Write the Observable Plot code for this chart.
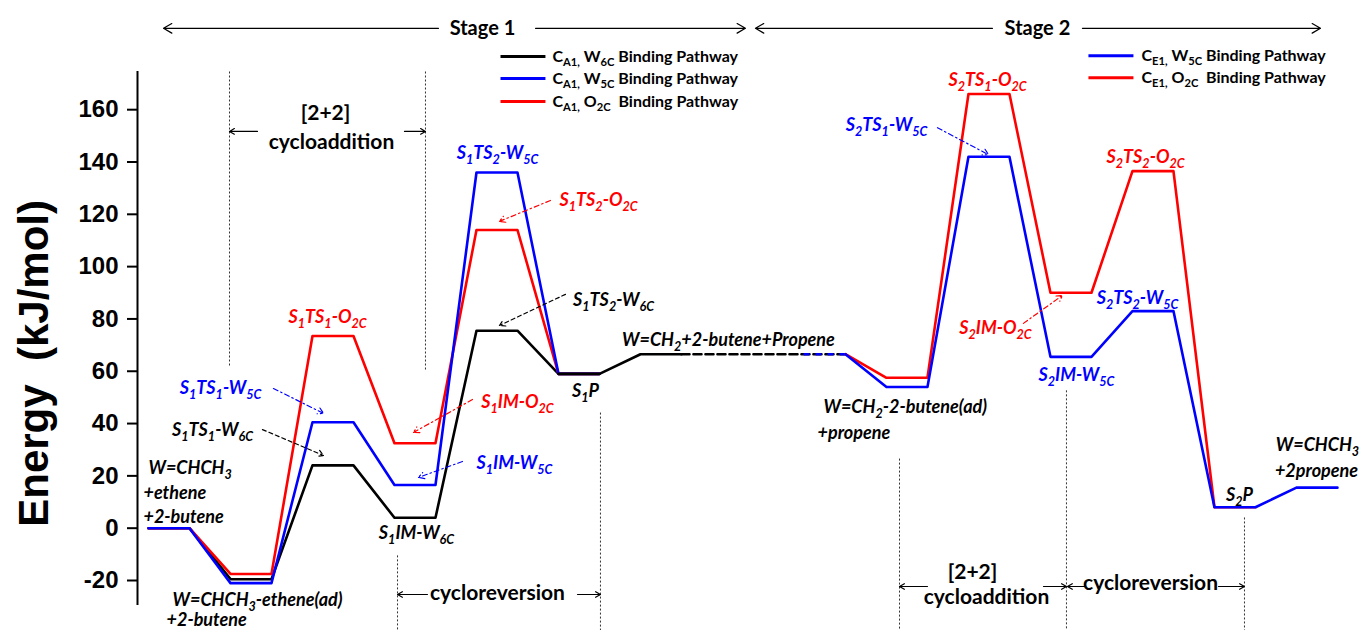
<!DOCTYPE html>
<html><head><meta charset="utf-8">
<script src="https://cdn.jsdelivr.net/npm/d3@7"></script>
<script src="https://cdn.jsdelivr.net/npm/@observablehq/plot@0.6"></script>
<style>body{margin:0;background:#fff} #chart svg{display:block}</style>
</head><body><div id="chart"></div>
<script>
// ---------- data ----------
const yTicks = [-20, 0, 20, 40, 60, 80, 100, 120, 140, 160];
// Stage 1 levels (index 0..6)
const stage1States = ["W=CHCH3+ethene+2-butene", "W=CHCH3-ethene(ad)+2-butene", "S1TS1", "S1IM", "S1TS2", "S1P", "W=CH2+2-butene+Propene"];
const cA1W6C = [0, -19.5, 24, 4, 75.5, 59, 66.5];
const cA1W5C = [0, -21, 40.5, 16.5, 136, 59];
const cA1O2C = [0, -17.5, 73.5, 32.5, 114, 59];
// Stage 2 levels (index 8..14)
const stage2Start = 8;
const stage2States = ["W=CH2+2-butene+Propene", "W=CH2-2-butene(ad)+propene", "S2TS1", "S2IM", "S2TS2", "S2P", "W=CHCH3+2propene"];
const cE1W5C = [66.5, 54, 142, 65.5, 83, 8, 15.5];
const cE1O2C = [66.5, 57.5, 166, 90, 136.5, 8];

const BLUE = "#0000ff", RED = "#ff0000", BLACK = "#000000";

const stateLabels = [
  {t: "S_{1}TS_{1}-O_{2C}", x: 2.183, y: 80.6, c: RED},
  {t: "S_{1}TS_{1}-W_{5C}", x: 0.878, y: 53.4, c: BLUE},
  {t: "S_{1}TS_{1}-W_{6C}", x: 0.78, y: 37.4, c: BLACK},
  {t: "W=CHCH_{3}", x: 0, y: 22.9, c: BLACK, a: "start"},
  {t: "+ethene", x: -0.061, y: 13.3, c: BLACK, a: "start"},
  {t: "+2-butene", x: -0.061, y: 4.1, c: BLACK, a: "start"},
  {t: "W=CHCH_{3}-ethene(ad)", x: 0.293, y: -27.7, c: BLACK, a: "start"},
  {t: "+2-butene", x: 0.22, y: -35.2, c: BLACK, a: "start"},
  {t: "S_{1}IM-W_{6C}", x: 3.268, y: -2.0, c: BLACK},
  {t: "S_{1}IM-W_{5C}", x: 4.463, y: 24.7, c: BLUE},
  {t: "S_{1}IM-O_{2C}", x: 4.5, y: 48.1, c: RED},
  {t: "S_{1}TS_{2}-W_{5C}", x: 4.256, y: 143.3, c: BLUE},
  {t: "S_{1}TS_{2}-O_{2C}", x: 5.488, y: 125.3, c: RED},
  {t: "S_{1}TS_{2}-W_{6C}", x: 5.671, y: 87.1, c: BLACK},
  {t: "S_{1}P", x: 5.329, y: 52.3, c: BLACK},
  {t: "W=CH_{2}+2-butene+Propene", x: 7.073, y: 71.8, c: BLACK},
  {t: "W=CH_{2}-2-butene(ad)", x: 8.232, y: 46.2, c: BLACK, a: "start"},
  {t: "+propene", x: 8.159, y: 36.2, c: BLACK, a: "start"},
  {t: "S_{2}TS_{1}-O_{2C}", x: 10.232, y: 171.2, c: RED},
  {t: "S_{2}TS_{1}-W_{5C}", x: 9.0, y: 153.9, c: BLUE},
  {t: "S_{2}TS_{2}-O_{2C}", x: 12.159, y: 141.8, c: RED},
  {t: "S_{2}IM-O_{2C}", x: 10.329, y: 76.4, c: RED},
  {t: "S_{2}TS_{2}-W_{5C}", x: 12.061, y: 87.8, c: BLUE},
  {t: "S_{2}IM-W_{5C}", x: 11.317, y: 58.4, c: BLUE},
  {t: "S_{2}P", x: 13.305, y: 12.5, c: BLACK},
  {t: "W=CHCH_{3}", x: 14.256, y: 31.6, c: BLACK},
  {t: "+2propene", x: 14.244, y: 21.8, c: BLACK}
];

const pointers = [
  {x1: 1.524, y1: 53.4, x2: 2.134, y2: 43.9, c: BLUE},
  {x1: 1.39, y1: 37.7, x2: 2.134, y2: 27.8, c: BLACK},
  {x1: 3.829, y1: 25.5, x2: 3.293, y2: 19.4, c: BLUE},
  {x1: 3.951, y1: 49.2, x2: 3.232, y2: 36.6, c: RED},
  {x1: 4.902, y1: 125.3, x2: 4.28, y2: 117.3, c: RED},
  {x1: 5.085, y1: 89.4, x2: 4.28, y2: 77.5, c: BLACK},
  {x1: 9.622, y1: 153.1, x2: 10.244, y2: 142.8, c: BLUE},
  {x1: 10.67, y1: 78.3, x2: 11.146, y2: 89.0, c: RED}
];

const dividers = [
  {x: 0.988, y1: 174.6, y2: 62.2},
  {x: 3.378, y1: 174.6, y2: 60.3},
  {x: 3.037, y1: -10.4, y2: -39.2},
  {x: 5.512, y1: 44.2, y2: -39.2},
  {x: 9.159, y1: 26.6, y2: -39.2},
  {x: 11.195, y1: 52.7, y2: -39.2},
  {x: 13.366, y1: 4.1, y2: -39.2}
];

const phaseTexts = [
  {t: "[2+2]", x: 2.159, y: 158.6},
  {t: "cycloaddition", x: 2.232, y: 147.5},
  {t: "cycloreversion", x: 4.256, y: -25.0},
  {t: "[2+2]", x: 10.049, y: -16.9},
  {t: "cycloaddition", x: 10.22, y: -26.5},
  {t: "cycloreversion", x: 12.22, y: -21.1}
];
const phaseArrows = [
  {x1: 1.329, x2: 0.988, y: 151.7}, {x1: 3.122, x2: 3.378, y: 151.7},
  {x1: 3.402, x2: 3.037, y: -25.35}, {x1: 5.232, x2: 5.512, y: -25.35},
  {x1: 9.5, x2: 9.159, y: -22.3}, {x1: 10.915, x2: 11.195, y: -22.3},
  {x1: 11.427, x2: 11.207, y: -22.3}, {x1: 13.049, x2: 13.366, y: -22.3}
];

const stageTexts = [{t: "Stage 1", x: 4.073}, {t: "Stage 2", x: 10.841}];
const stageArrows = [
  {x1: 3.537, x2: 0.183}, {x1: 4.72, x2: 7.28},
  {x1: 10.293, x2: 7.402}, {x1: 11.39, x2: 14.293}
];
const stageY = 191.1;

const legend1 = [
  {t: "C_{A1,} W_{6C} Binding Pathway", c: BLACK, y: 180.3},
  {t: "C_{A1,} W_{5C} Binding Pathway", c: BLUE, y: 171.9},
  {t: "C_{A1,} O_{2C}\u00a0 Binding Pathway", c: RED, y: 163.1}
];
const legend2 = [
  {t: "C_{E1,} W_{5C} Binding Pathway", c: BLUE, y: 180.6},
  {t: "C_{E1,} O_{2C}\u00a0 Binding Pathway", c: RED, y: 172.2}
];

// ---------- build level paths ----------
function levelPoints(values, start) {
  return values.flatMap((v, k) => [{x: start + k, y: v}, {x: start + k + 0.5, y: v}]);
}
const w6cPts = levelPoints(cA1W6C, 0);
const w6cLow = w6cPts.filter(d => d.x <= 5.5);
const w6cHigh = w6cPts.filter(d => d.x >= 5);
const w5cPts = levelPoints(cA1W5C, 0);
const o2cPts = levelPoints(cA1O2C, 0);
const e1w5cPts = levelPoints(cE1W5C, stage2Start).slice(1);
const e1o2cPts = levelPoints(cE1O2C, stage2Start).slice(1);
const transferLevel = cA1W6C[cA1W6C.length - 1];
const dashedLink = [{x: 6.5, y: transferLevel}, {x: stage2Start + 0.5, y: transferLevel}];
const dashedBlue = [{x: stage2Start, y: cE1W5C[0]}, {x: stage2Start + 0.5, y: cE1W5C[0]}];

const LABEL_FONT = "Lato, 'Open Sans', sans-serif";
const LW = 2.6;
const labelStyle = {x: "x", y: "y", text: "t", fill: "c", fontFamily: LABEL_FONT, fontStyle: "italic", fontWeight: "bold", fontSize: 18};

const chart = Plot.plot({
  width: 1362, height: 630,
  marginLeft: 137, marginRight: 15.2, marginTop: 71, marginBottom: 25,
  x: {domain: [-0.134, 14.62], axis: null},
  y: {domain: [-29.56, 174.6], ticks: yTicks, label: null},
  color: {type: "identity"},
  style: {fontFamily: "'Liberation Sans', Arial, sans-serif", background: "#fff"},
  marks: [
    // dividers
    Plot.link(dividers, {x1: "x", x2: "x", y1: "y1", y2: "y2", stroke: "#333", strokeWidth: 1, strokeDasharray: "2,2"}),
    // axis
    Plot.ruleX([-0.134], {y1: -29.56, y2: 174.6, strokeWidth: 2}),
    Plot.axisY({ticks: yTicks, tickFormat: d => String(d), tickSize: 10, tickPadding: 9, strokeWidth: 2, fontSize: 24, fontWeight: "bold", label: null}),
    Plot.text(["Energy\u00a0\u00a0(kJ/mol)"], {x: -1.395, y: 63.0, rotate: -90, fontSize: 42, fontWeight: "bold", text: d => d}),
    // stage 1 pathways
    Plot.line(w6cLow, {x: "x", y: "y", stroke: BLACK, strokeWidth: LW}),
    Plot.line(o2cPts, {x: "x", y: "y", stroke: RED, strokeWidth: LW}),
    Plot.line(w5cPts, {x: "x", y: "y", stroke: BLUE, strokeWidth: LW}),
    Plot.line(w6cHigh, {x: "x", y: "y", stroke: BLACK, strokeWidth: LW}),
    Plot.line(dashedLink, {x: "x", y: "y", stroke: BLACK, strokeWidth: LW, strokeDasharray: "8,4"}),
    Plot.line(dashedBlue, {x: "x", y: "y", stroke: BLUE, strokeWidth: LW, strokeDasharray: "4,8"}),
    // stage 2 pathways
    Plot.line(e1o2cPts, {x: "x", y: "y", stroke: RED, strokeWidth: LW}),
    Plot.line(e1w5cPts, {x: "x", y: "y", stroke: BLUE, strokeWidth: LW}),
    // pointers
    Plot.arrow(pointers.filter(d => d.c !== BLACK), {x1: "x1", y1: "y1", x2: "x2", y2: "y2", stroke: "c", strokeWidth: 1.2, strokeDasharray: "5,3,1.5,3", headLength: 8}),
    Plot.arrow(pointers.filter(d => d.c === BLACK), {x1: "x1", y1: "y1", x2: "x2", y2: "y2", stroke: "c", strokeWidth: 1.2, strokeDasharray: "4,3", headLength: 8}),
    // state labels
    Plot.text(stateLabels.filter(d => !d.a), {...labelStyle, textAnchor: "middle"}),
    Plot.text(stateLabels.filter(d => d.a === "start"), {...labelStyle, textAnchor: "start"}),
    // phase annotations
    Plot.text(phaseTexts, {x: "x", y: "y", text: "t", fontFamily: LABEL_FONT, fontWeight: "bold", fontSize: 21}),
    Plot.arrow(phaseArrows, {x1: "x1", x2: "x2", y1: "y", y2: "y", strokeWidth: 1.2, headLength: 7}),
    // stage header
    Plot.text(stageTexts, {x: "x", y: stageY, text: "t", fontFamily: LABEL_FONT, fontWeight: "bold", fontSize: 20}),
    Plot.arrow(stageArrows, {x1: "x1", x2: "x2", y1: stageY, y2: stageY, strokeWidth: 1.2, headLength: 12}),
    // legends
    Plot.link(legend1, {x1: 4.293, x2: 4.841, y1: "y", y2: "y", stroke: "c", strokeWidth: 3}),
    Plot.text(legend1, {x: 4.927, y: "y", text: "t", textAnchor: "start", fontFamily: LABEL_FONT, fontWeight: "bold", fontSize: 16}),
    Plot.link(legend2, {x1: 11.463, x2: 12.012, y1: "y", y2: "y", stroke: "c", strokeWidth: 3}),
    Plot.text(legend2, {x: 12.11, y: "y", text: "t", textAnchor: "start", fontFamily: LABEL_FONT, fontWeight: "bold", fontSize: 16})
  ]
});

// subscripts: turn "_{...}" into lowered, smaller tspans
d3.select(chart).selectAll("text").each(function () {
  const s = this.textContent;
  if (!s.includes("_{")) return;
  this.textContent = "";
  const re = /_\{([^}]*)\}/g;
  let last = 0, m, lowered = false;
  const sel = d3.select(this);
  const add = (txt, sub) => {
    const ts = sel.append("tspan").text(txt);
    if (sub) { ts.attr("font-size", "70%").attr("dy", "0.4em"); lowered = true; }
    else if (lowered) { ts.attr("dy", "-0.28em"); lowered = false; }
  };
  while ((m = re.exec(s))) {
    if (m.index > last) add(s.slice(last, m.index), false);
    add(m[1], true);
    last = re.lastIndex;
  }
  if (last < s.length) add(s.slice(last), false);
});

document.getElementById("chart").appendChild(chart);
</script>
</body></html>
